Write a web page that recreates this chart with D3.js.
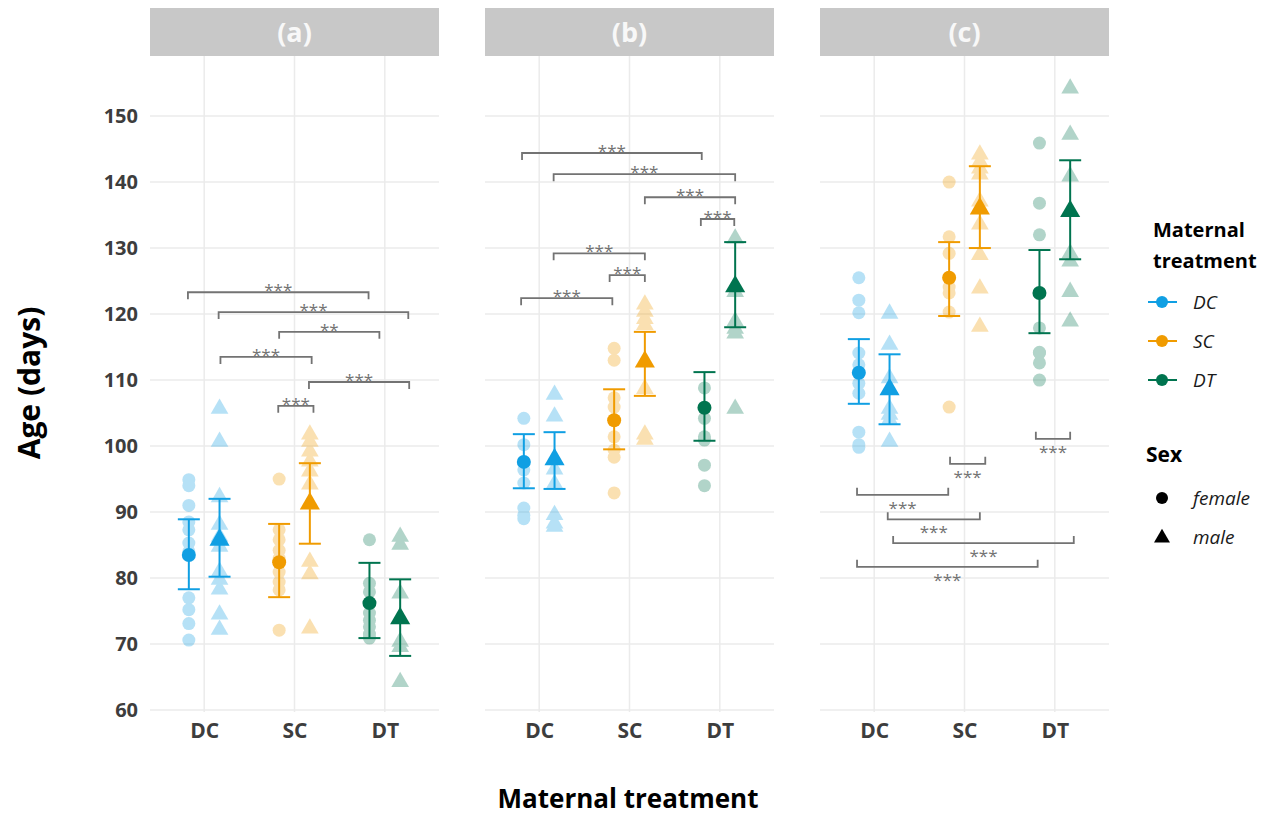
<!DOCTYPE html>
<html>
<head>
<meta charset="utf-8">
<script src="https://cdn.jsdelivr.net/npm/d3@7"></script>
<style>
  body { margin: 0; background: #fff; }
  svg text { font-family: "Open Sans", "Noto Sans", sans-serif; }
</style>
</head>
<body>
<svg width="1275" height="817"></svg>
<script>
const svg = d3.select("svg");

const panels = ["(a)", "(b)", "(c)"];
const treatments = ["DC", "SC", "DT"];
const sexes = ["female", "male"];
const yTicks = [60, 70, 80, 90, 100, 110, 120, 130, 140, 150];
const colors = ["#109fe3", "#f09b00", "#00744f"];

// individual ages, order: DC f, DC m, SC f, SC m, DT f, DT m
const pointsA = [
  [94.9, 94.0, 91.0, 88.5, 87.3, 85.3, 84.0, 77.0, 75.2, 73.1, 70.6],
  [105.9, 100.9, 92.5, 88.3, 86.5, 85.0, 81.2, 80.0, 78.5, 74.7, 72.4],
  [95.0, 87.3, 85.8, 84.2, 83.0, 80.9, 79.4, 78.2, 72.1],
  [102.0, 100.9, 99.4, 97.9, 96.4, 94.4, 82.7, 80.8, 72.6],
  [85.8, 79.2, 77.9, 74.7, 73.6, 72.6, 71.5, 70.9],
  [86.5, 85.3, 77.9, 70.6, 69.8, 64.5]
];
const pointsB = [
  [104.2, 100.2, 97.6, 96.4, 94.4, 90.6, 89.5, 89.0],
  [108.0, 104.7, 98.2, 96.7, 94.5, 89.8, 88.5, 88.0],
  [114.8, 113.0, 107.3, 105.9, 101.4, 99.4, 98.3, 92.9],
  [121.7, 120.6, 119.5, 118.6, 108.9, 102.0, 101.2],
  [108.8, 104.2, 101.4, 100.9, 97.1, 94.0],
  [131.7, 123.6, 119.1, 118.0, 117.3, 105.9]
];
const pointsC = [
  [125.5, 122.1, 120.2, 114.1, 112.3, 109.5, 108.0, 102.1, 100.2, 99.8],
  [120.3, 115.6, 110.5, 105.9, 105.0, 104.2, 100.9],
  [140.0, 131.7, 129.2, 124.1, 123.2, 120.3, 105.9],
  [144.4, 143.3, 142.3, 141.4, 137.3, 133.8, 129.2, 124.1, 118.3],
  [145.9, 136.8, 132.0, 117.9, 114.2, 114.1, 112.6, 110.0],
  [154.4, 147.4, 141.1, 129.4, 128.2, 123.6, 119.1]
];

// group means and interval limits
const meansA = [83.5, 86.0, 82.4, 91.5, 76.2, 74.1];
const lowA = [78.3, 80.2, 77.1, 85.2, 70.9, 68.2];
const highA = [88.9, 92.0, 88.2, 97.4, 82.3, 79.8];
const meansB = [97.6, 98.2, 103.9, 113.0, 105.8, 124.4];
const lowB = [93.6, 93.5, 99.5, 107.6, 100.8, 118.0];
const highB = [101.8, 102.1, 108.6, 117.3, 111.2, 130.9];
const meansC = [111.1, 108.8, 125.5, 136.2, 123.2, 135.8];
const lowC = [106.4, 103.3, 119.7, 130.0, 117.1, 128.3];
const highC = [116.2, 113.9, 130.9, 142.4, 129.7, 143.3];

// significance brackets: [from, to, age, label]
const bracketsA = [
  [0.82, 2.82, 123.3, "***"], [1.16, 3.26, 120.3, "***"], [1.83, 2.94, 117.3, "**"],
  [1.18, 2.19, 113.5, "***"], [2.16, 3.27, 109.7, "***"], [1.82, 2.21, 106.1, "***"]
];
const bracketsB = [
  [0.81, 2.80, 144.4, "***"], [1.16, 3.17, 141.2, "***"], [2.17, 3.17, 137.7, "***"],
  [2.79, 3.16, 134.4, "***"], [1.16, 2.17, 129.2, "***"], [1.78, 2.17, 125.9, "***"],
  [0.80, 1.81, 122.4, "***"]
];
const bracketsC = [
  [2.79, 3.17, 101.1, "***"], [1.84, 2.23, 97.3, "***"], [0.81, 1.82, 92.6, "***"],
  [1.15, 2.17, 88.9, "***"], [1.21, 3.21, 85.3, "***"], [0.81, 2.81, 81.7, "***"]
];

const panelData = [
  { points: pointsA, means: meansA, low: lowA, high: highA, brackets: bracketsA, down: false },
  { points: pointsB, means: meansB, low: lowB, high: highB, brackets: bracketsB, down: false },
  { points: pointsC, means: meansC, low: lowC, high: highC, brackets: bracketsC, down: true }
];

const panelW = 289, gap = 46, left0 = 150;
const plotTop = 56, plotBottom = 712;
const sexOffset = [-0.17, 0.17];

const y = d3.scaleLinear().domain([59.7, 159.1]).range([plotBottom, plotTop]);

const triangle = d3.symbol().type(d3.symbolTriangle);

panelData.forEach((p, pi) => {
  const x0 = left0 + pi * (panelW + gap);
  const x = d3.scaleLinear().domain([0.4, 3.6]).range([x0, x0 + panelW]);
  const g = svg.append("g");

  // grid
  g.selectAll(".hgrid").data(yTicks).enter().append("line")
    .attr("x1", x0).attr("x2", x0 + panelW)
    .attr("y1", d => y(d)).attr("y2", d => y(d))
    .attr("stroke", "#ebebeb").attr("stroke-width", 1.5);
  g.selectAll(".vgrid").data([1, 2, 3]).enter().append("line")
    .attr("x1", d => x(d)).attr("x2", d => x(d))
    .attr("y1", plotTop).attr("y2", plotBottom)
    .attr("stroke", "#ebebeb").attr("stroke-width", 1.5);

  // strip
  g.append("rect").attr("x", x0).attr("y", 8).attr("width", panelW).attr("height", 48)
    .attr("fill", "#c8c8c8");
  g.append("text").attr("x", x0 + panelW / 2).attr("y", 42)
    .attr("text-anchor", "middle").attr("fill", "#f8f8f8")
    .attr("font-size", 27).attr("font-weight", "bold").text(panels[pi]);

  // x axis
  const xa = g.append("g").attr("transform", `translate(0,${plotBottom})`)
    .call(d3.axisBottom(x).tickValues([1, 2, 3]).tickSize(0).tickPadding(11)
      .tickFormat((d, i) => treatments[i]));
  xa.select(".domain").remove();
  xa.selectAll("text").attr("font-size", 21).attr("font-weight", "bold").attr("fill", "#3d3d3d");

  if (pi === 0) {
    const ya = g.append("g").attr("transform", `translate(${x0},0)`)
      .call(d3.axisLeft(y).tickValues(yTicks).tickSize(0).tickPadding(12));
    ya.select(".domain").remove();
    ya.selectAll("text").attr("font-size", 20).attr("font-weight", "bold").attr("fill", "#3d3d3d");
  }

  // groups
  p.points.forEach((vals, gi) => {
    const t = Math.floor(gi / 2), s = gi % 2;
    const cx = x(t + 1 + sexOffset[s]);
    const col = colors[t];
    const raw = g.append("g").attr("opacity", 0.3);
    vals.forEach(v => {
      if (s === 0) {
        raw.append("circle").attr("cx", cx).attr("cy", y(v)).attr("r", 6.5).attr("fill", col);
      } else {
        raw.append("path").attr("d", triangle.size(135)())
          .attr("transform", `translate(${cx},${y(v) + 1.5})`).attr("fill", col);
      }
    });
    // error bar
    const lo = y(p.low[gi]), hi = y(p.high[gi]);
    g.append("line").attr("x1", cx).attr("x2", cx).attr("y1", lo).attr("y2", hi)
      .attr("stroke", col).attr("stroke-width", 2);
    [lo, hi].forEach(yy => {
      g.append("line").attr("x1", cx - 11).attr("x2", cx + 11).attr("y1", yy).attr("y2", yy)
        .attr("stroke", col).attr("stroke-width", 2);
    });
    const m = y(p.means[gi]);
    if (s === 0) {
      g.append("circle").attr("cx", cx).attr("cy", m).attr("r", 7).attr("fill", col);
    } else {
      g.append("path").attr("d", triangle.size(175)())
        .attr("transform", `translate(${cx},${m + 1.5})`).attr("fill", col);
    }
  });

  // brackets
  p.brackets.forEach(b => {
    const xa1 = x(b[0]), xa2 = x(b[1]), yy = y(b[2]);
    const tick = p.down ? -7 : 7;
    g.append("path")
      .attr("d", `M${xa1},${yy + tick}V${yy}H${xa2}V${yy + tick}`)
      .attr("fill", "none").attr("stroke", "#737373").attr("stroke-width", 1.8);
    g.append("text").attr("x", (xa1 + xa2) / 2).attr("y", p.down ? yy + 19 : yy + 4)
      .attr("text-anchor", "middle").attr("fill", "#737373").attr("font-size", 17)
      .text(b[3]);
  });
});

// axis titles
svg.append("text").attr("transform", "translate(40,383) rotate(-90)")
  .attr("text-anchor", "middle").attr("font-size", 30).attr("font-weight", "bold")
  .attr("fill", "#000").text("Age (days)");
svg.append("text").attr("x", 628).attr("y", 808)
  .attr("text-anchor", "middle").attr("font-size", 26).attr("font-weight", "bold")
  .attr("fill", "#000").text("Maternal treatment");

// legend
const lg = svg.append("g");
lg.append("text").attr("x", 1153).attr("y", 237).attr("font-size", 20).attr("font-weight", "bold").text("Maternal");
lg.append("text").attr("x", 1153).attr("y", 268).attr("font-size", 20).attr("font-weight", "bold").text("treatment");
treatments.forEach((t, i) => {
  const yy = 302 + i * 39;
  lg.append("line").attr("x1", 1148).attr("x2", 1177).attr("y1", yy).attr("y2", yy)
    .attr("stroke", colors[i]).attr("stroke-width", 2);
  lg.append("circle").attr("cx", 1162).attr("cy", yy).attr("r", 6).attr("fill", colors[i]);
  lg.append("text").attr("x", 1193).attr("y", yy + 7).attr("font-size", 19)
    .attr("font-style", "italic").attr("fill", "#1a1a1a").text(t);
});
lg.append("text").attr("x", 1146).attr("y", 462).attr("font-size", 21).attr("font-weight", "bold").text("Sex");
sexes.forEach((s, i) => {
  const yy = 498 + i * 39;
  if (i === 0) {
    lg.append("circle").attr("cx", 1162).attr("cy", yy).attr("r", 6).attr("fill", "#000");
  } else {
    lg.append("path").attr("d", triangle.size(110)()).attr("transform", `translate(1162,${yy + 1})`).attr("fill", "#000");
  }
  lg.append("text").attr("x", 1193).attr("y", yy + 7).attr("font-size", 19)
    .attr("font-style", "italic").attr("fill", "#1a1a1a").text(s);
});
</script>
</body>
</html>
